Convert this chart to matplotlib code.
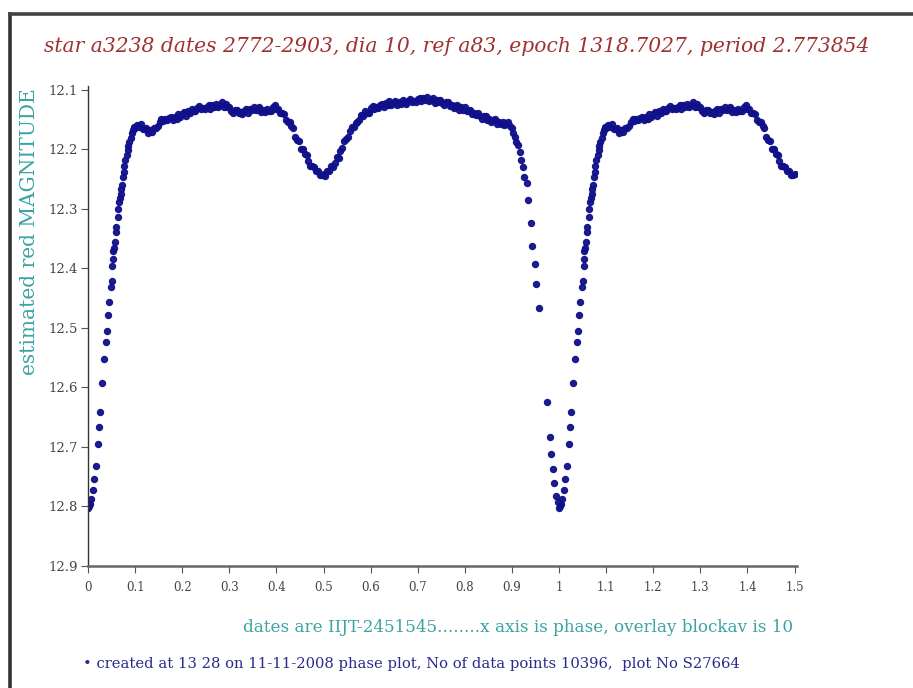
import matplotlib
matplotlib.use("Agg")
import matplotlib.pyplot as plt
from matplotlib.lines import Line2D
import numpy as np

# ---- light curve samples (phase 0..1, estimated red magnitude) ----
# primary eclipse egress
egress_phase = [0.000, 0.002, 0.004, 0.006, 0.0106, 0.0127, 0.0163, 0.0206, 0.0233,
                0.0255, 0.0297, 0.034, 0.0382, 0.0397, 0.0424, 0.0446, 0.0488, 0.0516,
                0.0520, 0.0530, 0.0537, 0.0550, 0.0566, 0.0587, 0.0600, 0.063, 0.0645,
                0.0658, 0.0675, 0.0693, 0.0710, 0.0728, 0.075, 0.0760, 0.077, 0.0795,
                0.082, 0.084, 0.0856, 0.088, 0.0906, 0.0935, 0.0962, 0.0985]
egress_mag = [12.802, 12.800, 12.795, 12.787, 12.772, 12.754, 12.732, 12.695, 12.666,
              12.641, 12.592, 12.552, 12.524, 12.505, 12.478, 12.456, 12.431, 12.421,
              12.395, 12.384, 12.371, 12.365, 12.356, 12.338, 12.330, 12.313, 12.300,
              12.288, 12.282, 12.274, 12.267, 12.260, 12.247, 12.238, 12.228, 12.218,
              12.209, 12.201, 12.195, 12.188, 12.181, 12.173, 12.167, 12.163]

# first maximum
max1_phase = [0.100, 0.104, 0.108, 0.112, 0.116, 0.120, 0.124, 0.128, 0.132, 0.136,
              0.140, 0.144, 0.148, 0.152, 0.156, 0.160, 0.164, 0.168, 0.172, 0.176,
              0.180, 0.184, 0.188, 0.192, 0.196, 0.200, 0.204, 0.208, 0.212, 0.216,
              0.220, 0.224, 0.228, 0.232, 0.236, 0.240, 0.244, 0.248, 0.252, 0.256,
              0.260, 0.264, 0.268, 0.272, 0.276, 0.280, 0.284, 0.288, 0.292, 0.296,
              0.300, 0.304, 0.308, 0.312, 0.316, 0.320, 0.324, 0.328, 0.332, 0.336,
              0.340, 0.344, 0.348, 0.352, 0.356, 0.360, 0.364, 0.368, 0.372, 0.376,
              0.380, 0.384, 0.388, 0.392, 0.396, 0.400, 0.404, 0.408, 0.412, 0.416,
              0.420]
max1_mag = [12.164, 12.159, 12.163, 12.158, 12.165, 12.166, 12.164, 12.172, 12.168, 12.171,
            12.164, 12.164, 12.161, 12.153, 12.148, 12.152, 12.149, 12.151, 12.147, 12.145,
            12.151, 12.145, 12.148, 12.141, 12.145, 12.141, 12.137, 12.143, 12.136, 12.138,
            12.132, 12.135, 12.136, 12.131, 12.127, 12.132, 12.130, 12.132, 12.128, 12.126,
            12.132, 12.126, 12.129, 12.123, 12.128, 12.125, 12.121, 12.129, 12.124, 12.129,
            12.128, 12.135, 12.139, 12.134, 12.133, 12.139, 12.137, 12.140, 12.135, 12.132,
            12.138, 12.132, 12.134, 12.129, 12.134, 12.132, 12.129, 12.137, 12.133, 12.137,
            12.132, 12.136, 12.136, 12.129, 12.125, 12.132, 12.132, 12.138, 12.138, 12.140,
            12.150]

# secondary eclipse
sec_phase = [0.424, 0.428, 0.432, 0.436, 0.440, 0.444, 0.448, 0.452, 0.456, 0.460,
             0.464, 0.468, 0.472, 0.476, 0.480, 0.484, 0.488, 0.492, 0.496, 0.500,
             0.504, 0.508, 0.512, 0.516, 0.520, 0.524, 0.528, 0.532, 0.536, 0.540,
             0.544, 0.548, 0.552, 0.556, 0.560, 0.564, 0.568, 0.572]
sec_mag = [12.153, 12.153, 12.161, 12.164, 12.179, 12.184, 12.186, 12.199, 12.199, 12.207,
           12.209, 12.219, 12.227, 12.228, 12.229, 12.237, 12.237, 12.243, 12.243, 12.242,
           12.245, 12.236, 12.236, 12.227, 12.229, 12.222, 12.213, 12.214, 12.202, 12.198,
           12.186, 12.183, 12.179, 12.169, 12.162, 12.163, 12.155, 12.153]

# second maximum
max2_phase = [0.576, 0.580, 0.584, 0.588, 0.592, 0.596, 0.600, 0.604, 0.608, 0.612,
              0.616, 0.620, 0.624, 0.628, 0.632, 0.636, 0.640, 0.644, 0.648, 0.652,
              0.656, 0.660, 0.664, 0.668, 0.672, 0.676, 0.680, 0.684, 0.688, 0.692,
              0.696, 0.700, 0.704, 0.708, 0.712, 0.716, 0.720, 0.724, 0.728, 0.732,
              0.736, 0.740, 0.744, 0.748, 0.752, 0.756, 0.760, 0.764, 0.768, 0.772,
              0.776, 0.780, 0.784, 0.788, 0.792, 0.796, 0.800, 0.804, 0.808, 0.812,
              0.816, 0.820, 0.824, 0.828, 0.832, 0.836, 0.840, 0.844, 0.848, 0.852,
              0.856, 0.860, 0.864, 0.868, 0.872, 0.876, 0.880, 0.884, 0.888, 0.892,
              0.896, 0.900]
max2_mag = [12.150, 12.142, 12.143, 12.136, 12.138, 12.138, 12.131, 12.127, 12.132, 12.129,
            12.131, 12.126, 12.123, 12.128, 12.122, 12.125, 12.119, 12.125, 12.122, 12.119,
            12.125, 12.120, 12.123, 12.117, 12.121, 12.123, 12.118, 12.115, 12.121, 12.118,
            12.121, 12.116, 12.114, 12.119, 12.114, 12.117, 12.112, 12.118, 12.117, 12.114,
            12.122, 12.117, 12.121, 12.117, 12.122, 12.125, 12.121, 12.120, 12.127, 12.126,
            12.130, 12.127, 12.126, 12.133, 12.129, 12.133, 12.129, 12.136, 12.135, 12.133,
            12.141, 12.138, 12.142, 12.139, 12.144, 12.148, 12.144, 12.143, 12.150, 12.149,
            12.153, 12.150, 12.149, 12.157, 12.153, 12.157, 12.153, 12.159, 12.157, 12.153,
            12.161, 12.164]

# primary eclipse ingress
ingress_phase = [0.903, 0.906, 0.909, 0.912, 0.9166, 0.920, 0.923, 0.926, 0.931, 0.934,
                 0.941, 0.9435, 0.950, 0.952, 0.9576, 0.9746, 0.980, 0.984, 0.987,
                 0.9895, 0.993, 0.998]
ingress_mag = [12.172, 12.179, 12.187, 12.193, 12.204, 12.218, 12.230, 12.246, 12.256, 12.285,
               12.323, 12.362, 12.392, 12.426, 12.466, 12.625, 12.684, 12.711, 12.737,
               12.761, 12.783, 12.792]

x_ticks = [0, 0.1, 0.2, 0.3, 0.4, 0.5, 0.6, 0.7, 0.8, 0.9, 1.0, 1.1, 1.2, 1.3, 1.4, 1.5]
x_tick_labels = ["0", "0.1", "0.2", "0.3", "0.4", "0.5", "0.6", "0.7", "0.8", "0.9",
                 "1", "1.1", "1.2", "1.3", "1.4", "1.5"]
y_ticks = [12.1, 12.2, 12.3, 12.4, 12.5, 12.6, 12.7, 12.8, 12.9]
y_tick_labels = ["12.1", "12.2", "12.3", "12.4", "12.5", "12.6", "12.7", "12.8", "12.9"]

title_text = "star a3238 dates 2772-2903, dia 10, ref a83, epoch 1318.7027, period 2.773854"
ylabel_text = "estimated red MAGNITUDE"
note_text = "dates are IIJT-2451545........x axis is phase, overlay blockav is 10"
footer_text = "created at 13 28 on 11-11-2008 phase plot, No of data points 10396,  plot No S27664"

# ---- assemble phase-folded series, repeated up to phase 1.5 ----
phase = np.concatenate([egress_phase, max1_phase, sec_phase, max2_phase, ingress_phase])
mag = np.concatenate([egress_mag, max1_mag, sec_mag, max2_mag, ingress_mag])
wrap = phase + 1.0 <= 1.5
phase_all = np.concatenate([phase, phase[wrap] + 1.0])
mag_all = np.concatenate([mag, mag[wrap]])

serif = ["DejaVu Serif"]
point_color = "#10108a"

fig = plt.figure(figsize=(9.13, 6.88), dpi=100)
fig.patch.set_facecolor("white")

# page frame
fig.add_artist(Line2D([10 / 913, 10 / 913], [0, 1 - 14 / 688], color="#333333", lw=2.6,
                      transform=fig.transFigure))
fig.add_artist(Line2D([10 / 913, 1], [1 - 14 / 688, 1 - 14 / 688], color="#444444", lw=2.6,
                      transform=fig.transFigure))

ax = fig.add_axes([88 / 913, 1 - 566 / 688, (796.9 - 88) / 913, (566 - 85.8) / 688])
ax.plot(phase_all, mag_all, linestyle="none", marker="o", ms=4.3,
        color=point_color, mec=point_color, alpha=0.95)

ax.set_xlim(0, 1.505)
ax.set_ylim(12.9, 12.093)
ax.set_xticks(x_ticks)
ax.set_xticklabels(x_tick_labels)
ax.set_yticks(y_ticks)
ax.set_yticklabels(y_tick_labels)

for s in ("top", "right"):
    ax.spines[s].set_visible(False)
ax.spines["left"].set_color("#333333")
ax.spines["left"].set_linewidth(1.0)
ax.spines["bottom"].set_color("#666666")
ax.spines["bottom"].set_linewidth(1.8)

ax.tick_params(axis="x", direction="out", length=5, width=0.8, color="#555555",
               labelcolor="#444444", labelsize=8.5, pad=6)
ax.tick_params(axis="y", direction="out", length=5, width=0.8, color="#555555",
               labelcolor="#444444", labelsize=9.5, pad=2)
for lab in ax.get_xticklabels() + ax.get_yticklabels():
    lab.set_family(serif)

fig.text(0.5, 1 - 47 / 688, title_text, ha="center", va="center", family=serif,
         style="italic", fontsize=14.6, color="#9e3232")
fig.text(30 / 913, 1 - 232 / 688, ylabel_text, ha="center", va="center", rotation=90,
         family=serif, fontsize=14.5, color="#3aa3a3")
fig.text(793 / 913, 1 - 627 / 688, note_text, ha="right", va="center", family=serif,
         fontsize=12.1, color="#3aa3a3")
fig.text(83 / 913, 1 - 664 / 688, "\u2022 " + footer_text, ha="left", va="center",
         family=serif, fontsize=10.6, color="#2a2a8c")

fig.savefig("out.png", dpi=100, facecolor="white")
